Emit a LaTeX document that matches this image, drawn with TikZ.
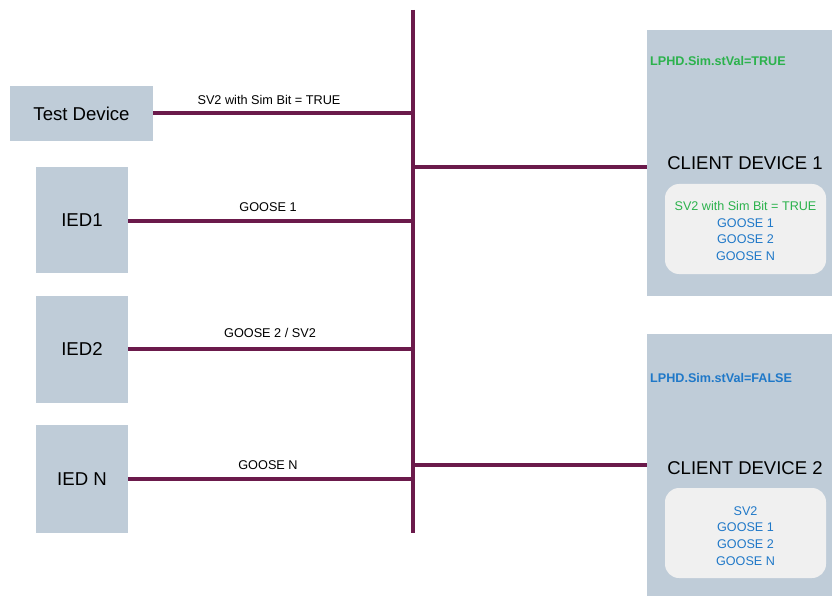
\documentclass[tikz,border=0pt]{standalone}
\usepackage{fontspec}
\setmainfont{Liberation Sans}
\definecolor{boxfill}{HTML}{BFCCD8}
\definecolor{busc}{HTML}{6B1A4B}
\definecolor{simgreen}{HTML}{2BB24C}
\definecolor{simblue}{HTML}{1F78C8}
\definecolor{innerfill}{HTML}{F0F0F0}
\begin{document}
\begin{tikzpicture}[x=1pt,y=-1pt,
  dev/.style={fill=boxfill, draw=none, inner sep=0pt, font=\fontsize{18.6}{20}\selectfont},
  client/.style={fill=boxfill, draw=none, inner sep=0pt, minimum width=185pt},
  innerbox/.style={fill=innerfill, draw=none, rounded corners=14pt, minimum width=161pt, minimum height=90pt, inner sep=0pt},
  link/.style={draw=busc, line width=3.6pt},
  lbl/.style={font=\fontsize{12.7}{14}\selectfont, inner sep=0pt},
  clabel/.style={font=\fontsize{18.5}{20}\selectfont, inner sep=0pt},
  lphd/.style={font=\bfseries\fontsize{12.6}{14}\selectfont, inner sep=0pt, anchor=west},
  msgs/.style={font=\fontsize{12.6}{16.7}\selectfont, align=center, inner sep=0pt, text=simblue}
]
\useasboundingbox (0,0) rectangle (832,596);

% devices
\node[dev, minimum width=143pt, minimum height=55pt] (td) at (81.5,113.5) {Test Device};
\node[dev, minimum width=92pt, minimum height=106pt] (ied1) at (82,220) {IED1};
\node[dev, minimum width=92pt, minimum height=107pt] (ied2) at (82,349.5) {IED2};
\node[dev, minimum width=92pt, minimum height=108pt] (iedn) at (82,479) {IED N};

% clients
\node[client, minimum height=266pt] (c1) at (739.5,163) {};
\node[client, minimum height=262pt] (c2) at (739.5,465) {};
\node[lphd, text=simgreen] (l1) at (650,61) {LPHD.Sim.stVal=TRUE};
\node[lphd, text=simblue] (l2) at (650,378) {LPHD.Sim.stVal=FALSE};
\node[clabel] (c1t) at (745,163) {CLIENT DEVICE 1};
\node[clabel] (c2t) at (745,468) {CLIENT DEVICE 2};
\node[innerbox] (i1) at (745.5,229) {};
\node[innerbox] (i2) at (745.5,533) {};
\node[msgs] (m1) at (745.5,231) {{\color{simgreen}SV2 with Sim Bit = TRUE}\\GOOSE 1\\GOOSE 2\\GOOSE N};
\node[msgs] (m2) at (745.5,536) {SV2\\GOOSE 1\\GOOSE 2\\GOOSE N};

% bus
\coordinate (bt) at (413,10);
\coordinate (bb) at (413,533);
\coordinate (b1) at (413,113);
\coordinate (b2) at (413,221);
\coordinate (b3) at (413,349);
\coordinate (b4) at (413,479);
\coordinate (b5) at (413,167);
\coordinate (b6) at (413,465);
\draw[link] (bt) -- (bb);
\draw[link] (td.east |- b1) -- (b1);
\draw[link] (ied1.east |- b2) -- (b2);
\draw[link] (ied2.east |- b3) -- (b3);
\draw[link] (iedn.east |- b4) -- (b4);
\draw[link] (b5) -- (b5 -| c1.west);
\draw[link] (b6) -- (b6 -| c2.west);

% link labels
\node[lbl] (t1) at (269,100) {SV2 with Sim Bit = TRUE};
\node[lbl] (t2) at (268,207) {GOOSE 1};
\node[lbl] (t3) at (270,333) {GOOSE 2 / SV2};
\node[lbl] (t4) at (268,465) {GOOSE N};
\end{tikzpicture}
\end{document}
